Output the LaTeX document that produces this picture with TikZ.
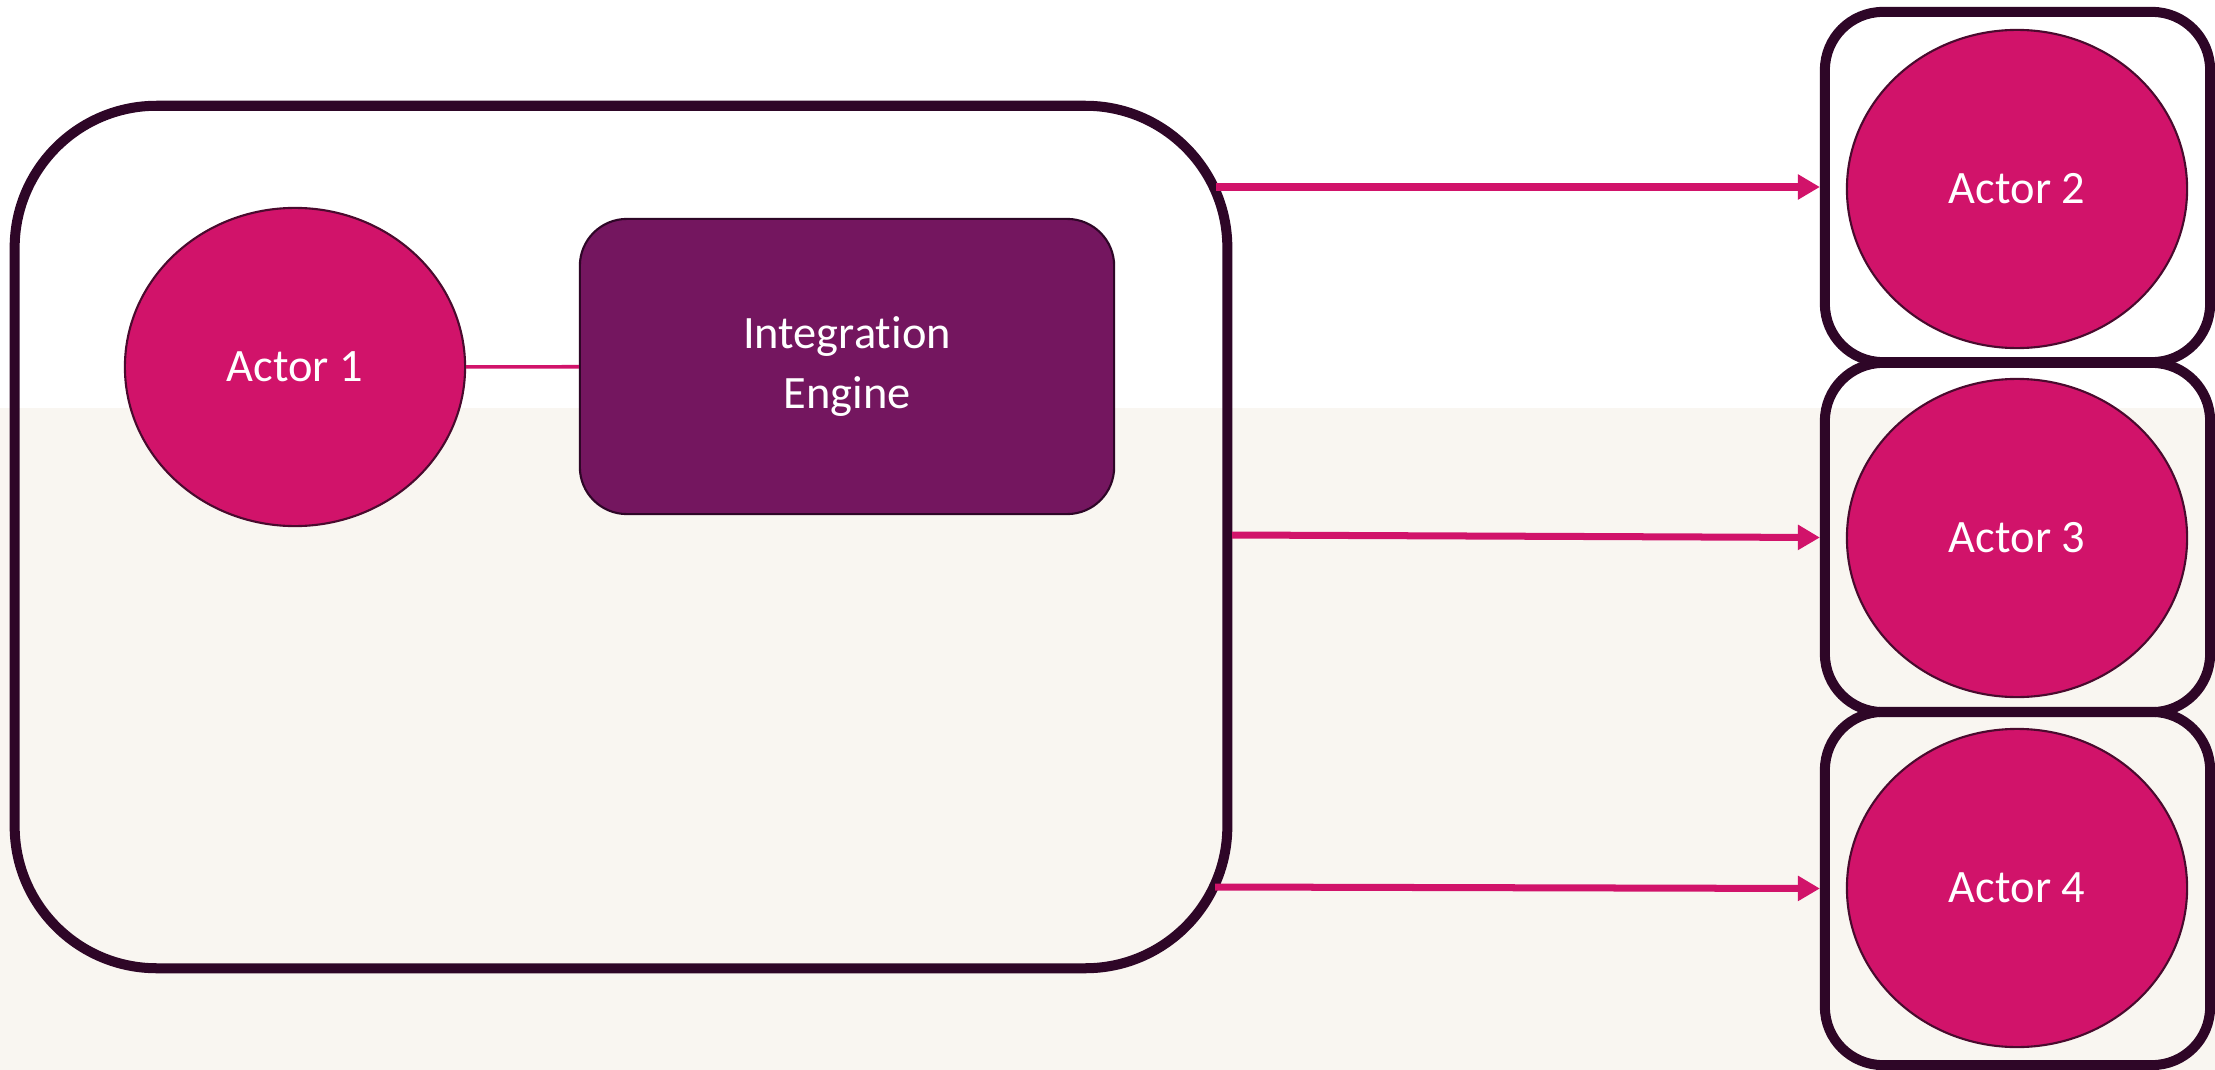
\documentclass[tikz,border=0pt]{standalone}
\usepackage{fontspec}
\setmainfont{Carlito}[Ligatures=NoCommon]
\usetikzlibrary{arrows.meta,shapes.geometric}

\definecolor{actorfill}{HTML}{D1136A}
\definecolor{enginefill}{HTML}{74165F}
\definecolor{darkline}{HTML}{2E0627}
\definecolor{ellipseline}{HTML}{4A0A2E}
\definecolor{paper}{HTML}{F9F6F1}

\tikzset{
  frame/.style={draw=darkline, line width=0.1cm, rectangle, inner sep=0pt},
  actor/.style={ellipse, draw=ellipseline, line width=0.6pt, fill=actorfill,
    minimum width=3.4cm, minimum height=3.18cm, inner sep=0pt,
    text=white, font=\fontsize{13.2pt}{16.8pt}\selectfont},
  enginebox/.style={rectangle, rounded corners=0.47cm, draw=darkline, line width=0.6pt,
    fill=enginefill, minimum width=5.34cm, minimum height=2.95cm, inner sep=0pt,
    text=white, align=center, font=\fontsize{13.2pt}{16.8pt}\selectfont},
  flow/.style={draw=actorfill, line width=0.07cm,
    -{Triangle[length=0.22cm,width=0.24cm]}},
  link/.style={draw=actorfill, line width=1pt}
}

\begin{document}
\begin{tikzpicture}[x=0.01cm, y=-0.01cm]
  % page and the lower tinted band
  \useasboundingbox (0,0) rectangle (2215,1070);
  \fill[white] (0,0) rectangle (2215,408);
  \fill[paper] (0,408) rectangle (2215,1070);

  % main system boundary
  \node[frame, rounded corners=1.42cm, minimum width=12.12cm, minimum height=8.62cm]
    (sys) at (621,537) {};

  % external actor frames on the right
  \node[frame, rounded corners=0.58cm, minimum width=3.85cm, minimum height=3.5cm]
    (box2) at (2017.5,187) {};
  \node[frame, rounded corners=0.58cm, minimum width=3.85cm, minimum height=3.49cm]
    (box3) at (2017.5,537.5) {};
  \node[frame, rounded corners=0.58cm, minimum width=3.85cm, minimum height=3.53cm]
    (box4) at (2017.5,888.5) {};

  % actors and the engine
  \node[actor] (a1) at (295,367) {Actor 1};
  \node[enginebox] (eng) at (847,366.5) {Integration\\Engine};
  \node[actor] (a2) at (2017,189) {Actor 2};
  \node[actor] (a3) at (2017,538) {Actor 3};
  \node[actor] (a4) at (2017,888) {Actor 4};

  % connection between actor 1 and the engine
  \draw[link] (a1) -- (eng);

  % outgoing messages from the system boundary
  \coordinate (s1) at (1216,187);
  \coordinate (s2) at (1232,535);
  \coordinate (s3) at (1215,887);
  \draw[flow] (s1) -- (box2.west);
  \draw[flow] (s2) -- (box3.west);
  \draw[flow] (s3) -- (box4.west);
\end{tikzpicture}
\end{document}
